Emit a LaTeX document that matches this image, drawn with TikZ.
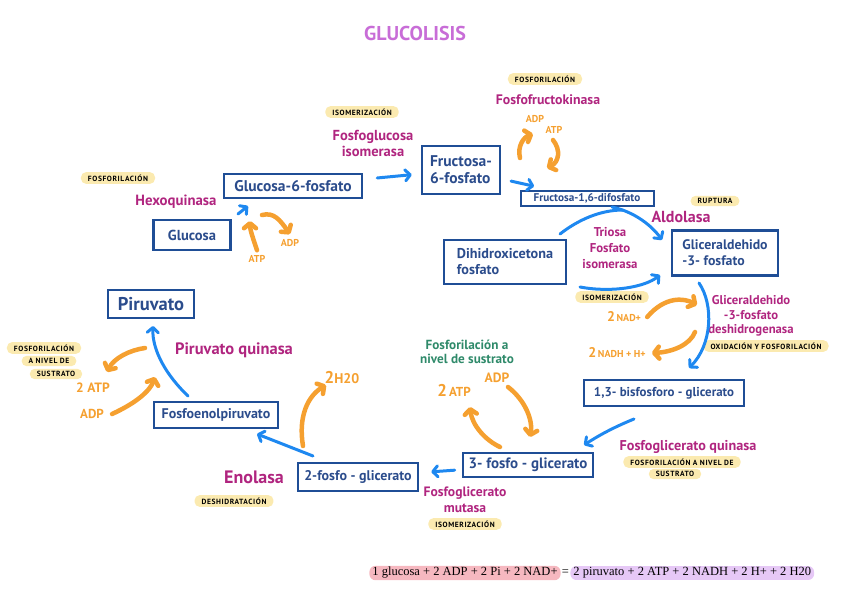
\documentclass[tikz,border=0pt]{standalone}
\usepackage{fontspec}
\setmainfont{PT Sans}
\newfontfamily\ecuacion{Liberation Serif}
\usetikzlibrary{arrows.meta,positioning,shapes}
\definecolor{azulcaja}{HTML}{1F4E96}
\definecolor{azultexto}{HTML}{2B4C8C}
\definecolor{magenta}{HTML}{B0257F}
\definecolor{azulflecha}{HTML}{1E88F0}
\definecolor{naranja}{HTML}{F5A030}
\definecolor{amarillo}{HTML}{FBEAB0}
\definecolor{lila}{HTML}{C86DD7}
\definecolor{verde}{HTML}{2F8A6A}
\definecolor{rosa}{HTML}{F6B8C0}
\definecolor{lavanda}{HTML}{E6C8F6}
\newcommand{\fsize}[1]{\fontsize{#1}{#1}\selectfont}

\begin{document}
\begin{tikzpicture}[x=1pt,y=-1pt]
\tikzstyle{molecula}=[rectangle, draw=azulcaja, line width=2.6pt, text=azultexto, font=\fontsize{14}{16}\selectfont\bfseries, align=left, inner sep=0pt]
\tikzstyle{enzima}=[text=magenta, font=\fontsize{14}{16}\selectfont\bfseries, align=center, inner sep=0pt]
\tikzstyle{cofactor}=[text=naranja, font=\fontsize{10}{11}\selectfont\bfseries, inner sep=0pt]
\tikzstyle{etiqueta}=[fill=amarillo, rounded corners=5pt, font=\fontsize{7.5}{8.5}\selectfont\bfseries\addfontfeatures{LetterSpace=8}, inner xsep=7pt, inner ysep=2.5pt, align=center]
\tikzstyle{connect}=[draw=azulflecha, line width=3pt, line cap=round, -{Straight Barb[length=5pt,width=11pt,round]}]
\tikzstyle{reaccion}=[draw=naranja, line width=4.5pt, line cap=round, -{Straight Barb[length=5pt,width=12pt,round]}]

  \useasboundingbox (0,0) rectangle (848,599);

  \node[text=lila, font=\fontsize{20}{22}\selectfont\bfseries] (titulo) at (415,34) {GLUCOLISIS};

  % moleculas
  \node[molecula, minimum width=77pt,  minimum height=30pt, font=\fsize{14.5}\bfseries] (glucosa) at (192,235) {Glucosa};
  \node[molecula, minimum width=138pt, minimum height=24pt, font=\fsize{15.5}\bfseries] (g6p) at (293,186) {Glucosa-6-fosfato};
  \node[molecula, minimum width=78pt,  minimum height=48pt, font=\fontsize{15.5}{17}\selectfont\bfseries] (f6p) at (461,170) {Fructosa-\\6-fosfato};
  \node[molecula, minimum width=133pt, minimum height=15pt, line width=2pt, font=\fsize{11.2}\bfseries] (f16) at (587,198) {Fructosa-1,6-difosfato};
  \node[molecula, minimum width=106pt, minimum height=45pt, font=\fontsize{13.8}{16}\selectfont\bfseries] (gap) at (725,253) {Gliceraldehido\\-3- fosfato};
  \node[molecula, minimum width=122pt, minimum height=44pt, font=\fontsize{14.2}{16}\selectfont\bfseries] (dhap) at (505,262) {Dihidroxicetona\\fosfato};
  \node[molecula, minimum width=160pt, minimum height=26pt, font=\fsize{12.9}\bfseries] (bpg) at (664,393) {1,3- bisfosforo - glicerato};
  \node[molecula, minimum width=130pt, minimum height=24pt, font=\fsize{15}\bfseries] (pg3) at (528,465) {3- fosfo - glicerato};
  \node[molecula, minimum width=120pt, minimum height=28pt] (pg2) at (358,477) {2-fosfo - glicerato};
  \node[molecula, minimum width=124pt, minimum height=26pt] (pep) at (216,415) {Fosfoenolpiruvato};
  \node[molecula, minimum width=86pt,  minimum height=28pt, font=\fsize{18.5}\bfseries] (piruvato) at (151,304) {Piruvato};

  % enzimas
  \node[enzima, font=\fontsize{14.5}{16}\selectfont\bfseries] (pgi) at (373,143) {Fosfoglucosa\\isomerasa};
  \node[enzima, font=\fsize{13.8}\bfseries] (pfk) at (548,100) {Fosfofructokinasa};
  \node[enzima, font=\fsize{14.8}\bfseries] (hexo) at (176,202) {Hexoquinasa};
  \node[enzima, font=\fsize{16}\bfseries] (aldo) at (681,217) {Aldolasa};
  \node[enzima, font=\fontsize{12.8}{16}\selectfont\bfseries] (tpi) at (610,248) {Triosa\\Fosfato\\isomerasa};
  \node[enzima, font=\fontsize{12.7}{14.5}\selectfont\bfseries] (gapdh) at (751,316) {Gliceraldehido\\-3-fosfato\\deshidrogenasa};
  \node[enzima, font=\fsize{16.5}\bfseries] (pk) at (234,350) {Piruvato quinasa};
  \node[enzima, font=\fsize{14.2}\bfseries] (pgk) at (688,447) {Fosfoglicerato quinasa};
  \node[enzima, font=\fontsize{13.6}{16}\selectfont\bfseries] (pgm) at (465,500) {Fosfoglicerato\\mutasa};
  \node[enzima, font=\fsize{18}\bfseries] (eno) at (254,477) {Enolasa};
  \node[enzima, text=verde, font=\fontsize{13.2}{14.5}\selectfont\bfseries] (sustrato) at (467,352) {Fosforilación a\\nivel de sustrato};

  % etiquetas
  \node[etiqueta] (isoA)  at (362,112) {ISOMERIZACIÓN};
  \node[etiqueta] (fosA)  at (545,79)  {FOSFORILACIÓN};
  \node[etiqueta] (fosB)  at (118,178) {FOSFORILACIÓN};
  \node[etiqueta] (rup)   at (715,201) {RUPTURA};
  \node[etiqueta] (isoB)  at (612,297) {ISOMERIZACIÓN};
  \node[etiqueta] (oxi)   at (766,346) {OXIDACIÓN Y FOSFORILACIÓN};
  \node[etiqueta] (susA)  at (682,462) {FOSFORILACIÓN A NIVEL DE};
  \node[etiqueta] (susB)  at (675,474) {SUSTRATO};
  \node[etiqueta] (isoC)  at (465,524) {ISOMERIZACIÓN};
  \node[etiqueta] (des)   at (234,501) {DESHIDRATACIÓN};
  \node[etiqueta] (susC)  at (44,348) {FOSFORILACIÓN};
  \node[etiqueta] (susD)  at (49,361) {A NIVEL DE};
  \node[etiqueta] (susE)  at (56,374) {SUSTRATO};

  % cofactores
  \node[cofactor] (atpA)  at (257,259) {ATP};
  \node[cofactor] (adpA)  at (290,243) {ADP};
  \node[cofactor] (adpB)  at (535,119) {ADP};
  \node[cofactor] (atpB)  at (554,130) {ATP};
  \node[cofactor] (nad)   at (624,317) {{\fsize{14}2}\,NAD+};
  \node[cofactor] (nadh)  at (617,353) {{\fsize{14}2}\,NADH + H+};
  \node[cofactor, font=\fsize{13}\bfseries] (atpC) at (454,390) {{\fsize{17}2}\,ATP};
  \node[cofactor, font=\fsize{13.5}\bfseries] (adpC) at (497,378) {ADP};
  \node[cofactor, font=\fsize{14}\bfseries] (agua) at (342,378) {{\fsize{17}2}H20};
  \node[cofactor, font=\fsize{13.5}\bfseries] (atpD) at (93,388) {2 ATP};
  \node[cofactor, font=\fsize{13}\bfseries] (adpD) at (92,414) {ADP};

  % ecuacion global
  \node[fill=rosa, rounded corners=6pt, inner xsep=3pt, inner ysep=1.5pt, font=\ecuacion\fontsize{12.5}{14}\selectfont] (eqA) at (465,573) {1 glucosa + 2 ADP + 2 Pi + 2 NAD+};
  \node[inner sep=1pt, font=\ecuacion\fontsize{12.5}{14}\selectfont, right=0pt of eqA] (eqB) {=};
  \node[fill=lavanda, rounded corners=6pt, inner xsep=3pt, inner ysep=1.5pt, font=\ecuacion\fontsize{12.5}{14}\selectfont, right=0pt of eqB] (eqC) {2 piruvato + 2 ATP + 2 NADH + 2 H+ + 2 H20};

  % puntos de las flechas
  \coordinate (hexoA) at (238,214);
  \coordinate (hexoB) at (248,206);
  \coordinate (aldoA) at (612,207);
  \coordinate (aldoB) at (662,240);
  \coordinate (tpiA)  at (560,234);
  \coordinate (tpiB)  at (623,210);
  \coordinate (tpiC)  at (580,287);
  \coordinate (tpiD)  at (660,275);
  \coordinate (gapA)  at (699,283);
  \coordinate (gapB)  at (689,368);
  \coordinate (bpgA)  at (634,419);
  \coordinate (bpgB)  at (584,445);
  \coordinate (enoA)  at (313,456);
  \coordinate (enoB)  at (257,434);
  \coordinate (pkA)   at (188,396);
  \coordinate (pkB)   at (153,326);

  \path (hexoA) edge [connect] (hexoB);
  \path (g6p) edge [connect, shorten <=14pt, shorten >=9pt] (f6p);
  \path (f6p) edge [connect, shorten <=10pt, shorten >=15pt] (f16);
  \draw [connect] (aldoA) .. controls (635,212) and (652,226) .. (aldoB);
  \draw [draw=azulflecha, line width=3pt, line cap=round] (tpiA) .. controls (578,220) and (600,210) .. (tpiB);
  \draw [connect] (tpiC) .. controls (612,293) and (645,287) .. (tpiD);
  \draw [connect] (gapA) .. controls (714,305) and (712,345) .. (gapB);
  \draw [connect] (bpgA) .. controls (612,428) and (598,436) .. (bpgB);
  \path (pg3) edge [connect, shorten <=7pt, shorten >=12pt] (pg2);
  \path (enoA) edge [connect] (enoB);
  \draw [connect] (pkA) .. controls (166,375) and (152,350) .. (pkB);

  \draw [reaccion] ([yshift=5pt]atpA.north) .. controls (253,238) and (250,230) .. (250,221);
  \draw [reaccion] (262,215) .. controls (274,212) and (280,220) .. ([yshift=5pt]adpA.north);
  \draw [reaccion] (520,158) .. controls (517,146) and (524,137) .. (533,134);
  \draw [reaccion] (553,140) .. controls (561,150) and (559,162) .. (547,168);
  \draw [reaccion] ([xshift=6pt]nad.east) .. controls (665,296) and (684,298) .. (697,305);
  \draw [reaccion] (695,332) .. controls (690,345) and (672,352) .. ([xshift=6pt]nadh.east);
  \draw [reaccion] (145,348) .. controls (130,350) and (114,358) .. (107,372);
  \draw [reaccion] ([xshift=8pt]adpD.east) .. controls (136,403) and (150,391) .. (155,377);
  \draw [reaccion] (303,446) .. controls (298,416) and (308,396) .. (326,385);
  \draw [reaccion] (508,387) .. controls (525,400) and (533,420) .. (530,437);
  \draw [reaccion] (500,447) .. controls (485,440) and (472,425) .. (470,407);

\end{tikzpicture}
\end{document}
